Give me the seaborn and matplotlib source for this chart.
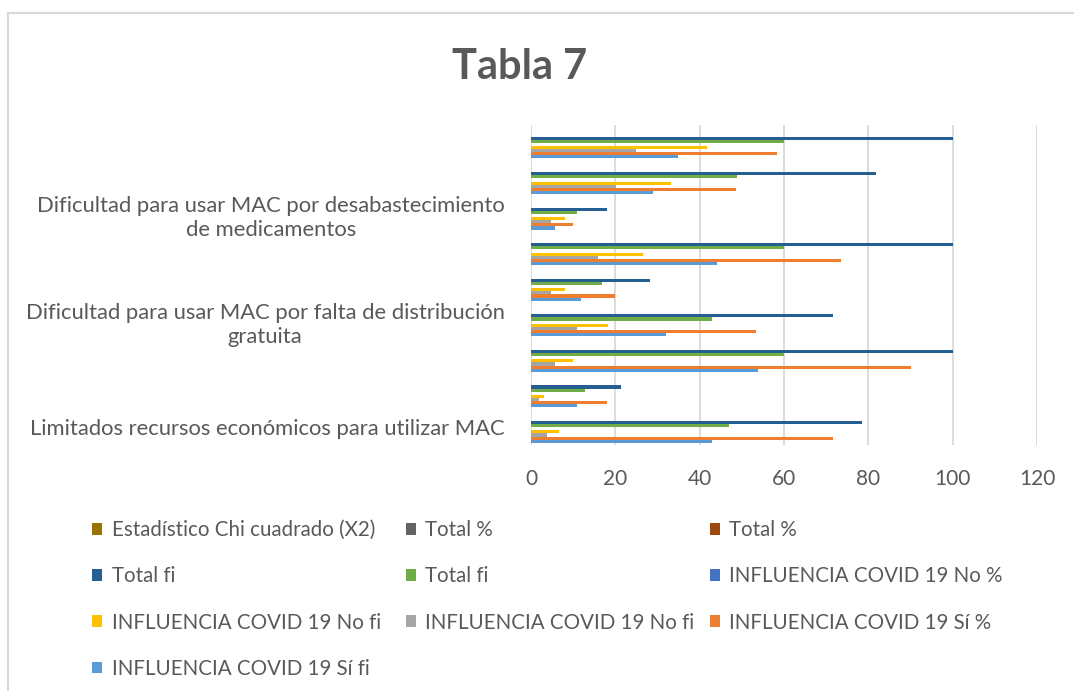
import matplotlib.pyplot as plt
import pandas as pd
import seaborn as sns
from matplotlib.patches import Patch, Rectangle

# grupos de abajo hacia arriba (Excel solo rotula uno de cada tres)
groups = ['1', '2', '3', '4', '5', '6', '7', '8', '9']
tick_labels = [
    'Limitados recursos económicos para utilizar MAC', '', '',
    'Dificultad para usar MAC por falta de distribución\ngratuita', '', '',
    'Dificultad para usar MAC por desabastecimiento\nde medicamentos', '', '',
]

# series (orden de la leyenda)
series_keys = ['chi', 'tot_pct_gray', 'tot_pct_red', 'tot_fi_blue', 'tot_fi_green',
               'no_pct', 'no_fi_yellow', 'no_fi_gray', 'si_pct', 'si_fi']
series_names = ['Estadístico Chi cuadrado (X2)', 'Total %', 'Total %',
                'Total fi', 'Total fi', 'INFLUENCIA COVID 19 No %',
                'INFLUENCIA COVID 19 No fi', 'INFLUENCIA COVID 19 No fi',
                'INFLUENCIA COVID 19 Sí %', 'INFLUENCIA COVID 19 Sí fi']
series_colors = ['#997300', '#636363', '#9E480E', '#255E91', '#70AD47',
                 '#4472C4', '#FFC000', '#A5A5A5', '#ED7D31', '#5B9BD5']

chi          = [0, 0, 0, 0, 0, 0, 0, 0, 0]
tot_pct_gray = [0, 0, 0, 0, 0, 0, 0, 0, 0]
tot_pct_red  = [0, 0, 0, 0, 0, 0, 0, 0, 0]
tot_fi_blue  = [78.5, 21.4, 100, 71.7, 28.3, 100, 18.1, 81.9, 100]
tot_fi_green = [47.0, 12.9, 60, 43.0, 16.9, 60, 11.0, 48.9, 60]
no_pct       = [0, 0, 0, 0, 0, 0, 0, 0, 0]
no_fi_yellow = [6.7, 3.2, 10.0, 18.3, 8.1, 26.6, 8.1, 33.3, 41.8]
no_fi_gray   = [3.9, 2.0, 5.8, 11.0, 4.8, 16.0, 4.8, 20.1, 25.0]
si_pct       = [71.7, 18.1, 90.2, 53.4, 20.0, 73.4, 10.0, 48.5, 58.4]
si_fi        = [43.0, 11.0, 53.9, 32.1, 11.9, 44.0, 5.8, 29.0, 34.9]

values = {'chi': chi, 'tot_pct_gray': tot_pct_gray, 'tot_pct_red': tot_pct_red,
          'tot_fi_blue': tot_fi_blue, 'tot_fi_green': tot_fi_green, 'no_pct': no_pct,
          'no_fi_yellow': no_fi_yellow, 'no_fi_gray': no_fi_gray,
          'si_pct': si_pct, 'si_fi': si_fi}

rows = []
for k in series_keys:
    for g, v in zip(groups, values[k]):
        rows.append({'grupo': g, 'serie': k, 'valor': v})
df = pd.DataFrame(rows)

sns.set_theme(style="white")
plt.rcParams['font.family'] = ['Lato', 'DejaVu Sans']
txt = '#595959'

fig = plt.figure(figsize=(10.74, 6.91), dpi=100)
ax = fig.add_axes([0.4944, 0.356, 0.4713, 0.463])

sns.barplot(ax=ax, data=df, x='valor', y='grupo', hue='serie',
            order=groups[::-1], hue_order=series_keys,
            palette=dict(zip(series_keys, series_colors)),
            orient='h', width=0.88, saturation=1, linewidth=0, legend=False)

ax.set_xlim(0, 120)
ax.set_xticks(range(0, 121, 20))
ax.set_yticks(range(len(groups)))
ax.set_yticklabels(tick_labels[::-1], ha='right', multialignment='center',
                   linespacing=1.25)
ax.set_xlabel('')
ax.set_ylabel('')
ax.xaxis.grid(True, color='#d9d9d9', linewidth=1.3)
ax.yaxis.grid(False)
ax.set_axisbelow(True)
for s in ax.spines.values():
    s.set_visible(False)
ax.tick_params(axis='x', length=0, pad=17, labelsize=15, labelcolor=txt)
ax.tick_params(axis='y', length=0, pad=19, labelsize=15.8, labelcolor=txt)

fig.text(0.484, 0.903, 'Tabla 7', ha='center', va='center',
         fontsize=30, fontweight='bold', color=txt)

# leyenda en 3 columnas, llenada por filas como Excel
handles = [Patch(facecolor=c, edgecolor='none') for c in series_colors]
col_x = [0.0857, 0.378, 0.661]
for ci in range(3):
    idx = list(range(ci, len(series_keys), 3))
    fig.legend([handles[i] for i in idx], [series_names[i] for i in idx],
               loc='upper left', bbox_to_anchor=(col_x[ci], 0.2475), frameon=False,
               handlelength=0.5, handleheight=0.5, handletextpad=0.45,
               labelspacing=1.28, fontsize=14.8, labelcolor=txt,
               borderpad=0, borderaxespad=0)

fig.add_artist(Rectangle((0.0078, -0.1), 1.2, 1.0812, transform=fig.transFigure,
                         fill=False, edgecolor='#d9d9d9', linewidth=1.5))

fig.savefig('out.png', dpi=100)
